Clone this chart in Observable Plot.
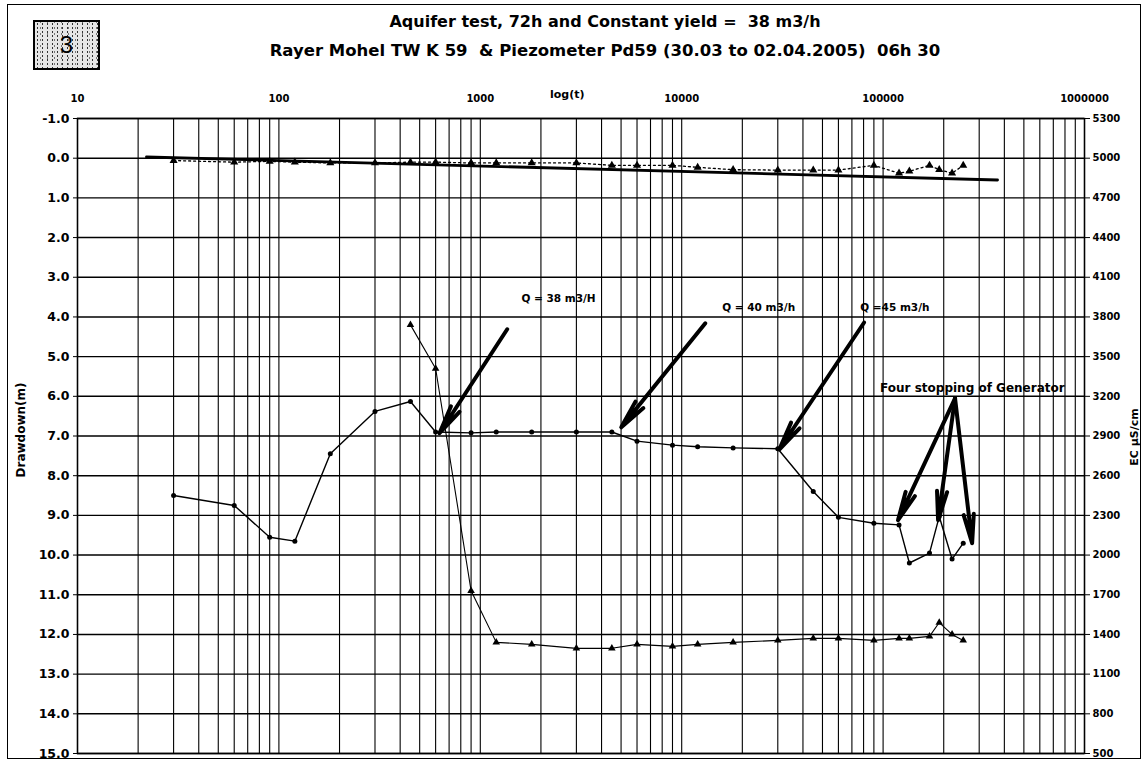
<!DOCTYPE html>
<html><head><meta charset="utf-8">
<script src="https://cdn.jsdelivr.net/npm/d3@7"></script>
<script src="https://cdn.jsdelivr.net/npm/@observablehq/plot@0.6"></script>
<style>
body{margin:0;background:#fff;}
#wrap{position:relative;width:1146px;height:767px;font-family:"DejaVu Sans",sans-serif;color:#000;}
.abs{position:absolute;}
#frame{left:7px;top:4px;width:1134px;height:755px;border:1px solid #000;box-sizing:border-box;}
#badge{left:33px;top:20px;width:67px;height:50px;border:2px solid #000;box-sizing:border-box;
  background-color:#e6e6e6;
  background-image:radial-gradient(#333 0.7px,transparent 1px),radial-gradient(#777 0.6px,transparent 1px);
  background-size:5px 4px,7px 6px;background-position:0 0,2px 3px;
  font-family:"Liberation Sans",Arial,sans-serif;font-size:24px;text-align:center;line-height:46px;}
.title{left:205px;width:800px;text-align:center;font-weight:bold;font-size:16px;white-space:pre;line-height:20px;}
.ylab{font-weight:bold;white-space:nowrap;transform-origin:center;line-height:14px;}
#plotbox{left:0;top:0;}
</style></head>
<body><div id="wrap">
<div id="plotbox" class="abs"></div>
<div id="frame" class="abs"></div>
<div id="badge" class="abs">3</div>
<div class="abs title" style="top:12px;">Aquifer test, 72h and Constant yield =  38 m3/h</div>
<div class="abs title" style="top:41px;font-size:16.5px;">Rayer Mohel TW K 59  &amp; Piezometer Pd59 (30.03 to 02.04.2005)  06h 30</div>
<div class="abs" style="left:550px;top:88px;font-weight:bold;font-size:11px;line-height:14px;">log(t)</div>
<div class="abs ylab" style="left:-29px;top:423px;width:100px;text-align:center;transform:rotate(-90deg);font-size:12px;">Drawdown(m)</div>
<div class="abs ylab" style="left:1085px;top:430px;width:100px;text-align:center;transform:rotate(-90deg);font-size:11px;">EC µS/cm</div>
</div>
<script>
// ---- data (time in seconds) ----
const times = [30, 60, 90, 120, 180, 300, 450, 600, 900, 1200, 1800, 3000, 4500, 6000, 9000, 12000, 18000, 30000, 45000, 60000, 90000, 120000, 135000, 170000, 190000, 220000, 250000];
const wellDrawdown = [8.5, 8.75, 9.55, 9.65, 7.45, 6.38, 6.13, 6.9, 6.92, 6.9, 6.9, 6.9, 6.9, 7.13, 7.23, 7.27, 7.3, 7.32, 8.4, 9.05, 9.2, 9.24, 10.2, 9.95, 9.03, 10.1, 9.7];
const piezoDrawdown = [0.06, 0.1, 0.08, 0.1, 0.12, 0.12, 0.1, 0.1, 0.12, 0.12, 0.12, 0.12, 0.18, 0.18, 0.18, 0.23, 0.29, 0.3, 0.3, 0.3, 0.18, 0.38, 0.33, 0.18, 0.29, 0.38, 0.18];
const ecTimes = [450, 600, 900, 1200, 1800, 3000, 4500, 6000, 9000, 12000, 18000, 30000, 45000, 60000, 90000, 120000, 135000, 170000, 190000, 220000, 250000];
const ecValues = [3740, 3410, 1730, 1340, 1325, 1295, 1295, 1325, 1310, 1325, 1340, 1355, 1370, 1370, 1355, 1370, 1370, 1385, 1490, 1400, 1355];
const fitTimes = [22, 370000];
const fitDrawdown = [-0.03, 0.55];
// annotations (time, drawdown)
const noteText = ["Q = 38 m3/H", "Q = 40 m3/h", "Q =45 m3/h"];
const noteTime = [1600, 15900, 77000];
const noteDrawdown = [3.54, 3.76, 3.76];
const generatorNote = ["Four stopping of Generator"];
const generatorTime = [96600];
const generatorDrawdown = [5.8];
const arrowFromT = [1360, 13100, 80500, 227600, 227600, 227600];
const arrowFromD = [4.31, 4.16, 4.14, 6.05, 6.05, 6.05];
const arrowToT = [627, 5010, 30500, 118600, 187500, 276700];
const arrowToD = [6.93, 6.78, 7.34, 9.12, 9.12, 9.7];
// axes
const xTickLabels = [10, 100, 1000, 10000, 100000, 1000000];
const yTicks = [-1, 0, 1, 2, 3, 4, 5, 6, 7, 8, 9, 10, 11, 12, 13, 14, 15];
const ecOffset = 5000, ecPerMetre = 300; // right axis: EC = 5000 - 300 * drawdown

const xGrid = xTickLabels.slice(0, -1).flatMap(k => [1,2,3,4,5,6,7,8,9].map(m => m * k)).concat([1e6]);
const well = times.map((t, i) => ({t, d: wellDrawdown[i]}));
const piezo = times.map((t, i) => ({t, d: piezoDrawdown[i]}));
const ec = ecTimes.map((t, i) => ({t, ec: ecValues[i]}));
const fit = fitTimes.map((t, i) => ({t, d: fitDrawdown[i]}));
const notes = noteText.map((s, i) => ({s, t: noteTime[i], d: noteDrawdown[i]}));
const genNotes = generatorNote.map((s, i) => ({s, t: generatorTime[i], d: generatorDrawdown[i]}));
const arrows = arrowFromT.map((t, i) => ({t1: t, d1: arrowFromD[i], t2: arrowToT[i], d2: arrowToD[i]}));
const ecY = r => (ecOffset - r.ec) / ecPerMetre;

const chart = Plot.plot({
  width: 1146, height: 767,
  marginLeft: 77, marginRight: 62, marginTop: 118, marginBottom: 14,
  style: {fontFamily: "DejaVu Sans, sans-serif", fontSize: "11px", fontWeight: "bold", color: "#000", background: "transparent"},
  x: {type: "log", domain: [10, 1e6]},
  y: {domain: [-1, 15], reverse: true},
  marks: [
    Plot.ruleX(xGrid, {stroke: "#000", strokeWidth: 1.1}),
    Plot.ruleY(yTicks, {stroke: "#000", strokeWidth: 1.4}),
    Plot.frame({stroke: "#000", strokeWidth: 1.5}),
    Plot.line(fit, {x: "t", y: "d", stroke: "#000", strokeWidth: 2.8}),
    Plot.line(piezo, {x: "t", y: "d", stroke: "#000", strokeWidth: 1.3, strokeDasharray: "2,3"}),
    Plot.dot(piezo, {x: "t", y: "d", symbol: "triangle", r: 3, fill: "#000"}),
    Plot.line(well, {x: "t", y: "d", stroke: "#000", strokeWidth: 1.4}),
    Plot.dot(well, {x: "t", y: "d", r: 2.5, fill: "#000"}),
    Plot.line(ec, {x: "t", y: ecY, stroke: "#000", strokeWidth: 1.1}),
    Plot.dot(ec, {x: "t", y: ecY, symbol: "triangle", r: 2.8, fill: "#000"}),
    Plot.arrow(arrows, {x1: "t1", y1: "d1", x2: "t2", y2: "d2", stroke: "#000", strokeWidth: 4, headLength: 11, headAngle: 20}),
    Plot.text(notes, {x: "t", y: "d", text: "s", textAnchor: "start", fontSize: 10.5, fontWeight: "bold", fill: "#000"}),
    Plot.text(genNotes, {x: "t", y: "d", text: "s", textAnchor: "start", fontSize: 12, fontWeight: "bold", fill: "#000"}),
    Plot.axisX({anchor: "top", ticks: xTickLabels, tickFormat: d => String(d), tickSize: 0, tickPadding: 17, label: null, fontSize: 10}),
    Plot.axisY({anchor: "left", ticks: yTicks, tickFormat: d => d.toFixed(1), tickSize: 4, tickPadding: 4, label: null, fontSize: 12.5}),
    Plot.axisY({anchor: "right", ticks: yTicks, tickFormat: d => String(ecOffset - ecPerMetre * d), tickSize: 5, tickPadding: 3, label: null, fontSize: 10})
  ]
});
document.getElementById("plotbox").appendChild(chart);
</script>
</body></html>
